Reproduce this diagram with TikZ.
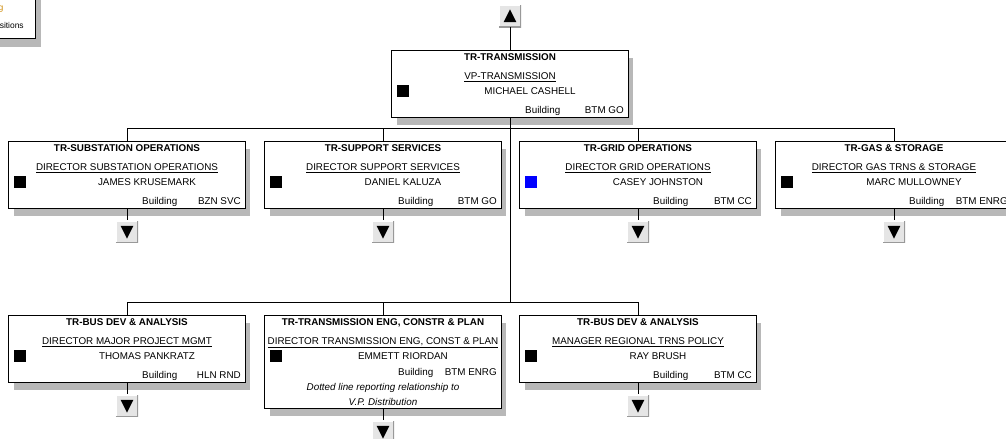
\documentclass[tikz,border=0pt]{standalone}
\usepackage{fontspec}
\setmainfont{Liberation Sans}
\usepackage{tikz}
\usetikzlibrary{positioning, calc, shadows}

\definecolor{legendorange}{RGB}{205,135,0}

\newcommand{\btnframe}{%
	\draw[white, line width=1.4pt] (path picture bounding box.south west) |- (path picture bounding box.north east);
	\draw[black!40, line width=1.4pt] (path picture bounding box.south west) -| (path picture bounding box.north east);
}

\tikzset{
	unitbox/.style={draw=black, fill=white, line width=0.7pt, minimum width=5.9cm, inner sep=0pt,
		drop shadow={shadow xshift=0.13cm, shadow yshift=-0.2cm, fill=black!28, opacity=1}},
	unittitle/.style={inner sep=0pt, anchor=base, font=\fontsize{7}{8}\selectfont\bfseries},
	unittext/.style={inner sep=0pt, anchor=base},
	unitright/.style={inner sep=0pt, anchor=base east},
	flagbox/.style={fill=#1, minimum size=0.3cm, inner sep=0pt},
	btn/.style={fill=black!10, minimum size=0.55cm, inner sep=0pt},
	btndown/.style={btn, path picture={\btnframe
		\fill[black] ([shift={(-0.16cm,0.15cm)}]path picture bounding box.center) -- ([shift={(0.16cm,0.15cm)}]path picture bounding box.center) -- ([shift={(0cm,-0.17cm)}]path picture bounding box.center) -- cycle;}},
	btnup/.style={btn, path picture={\btnframe
		\fill[black] ([shift={(-0.16cm,-0.15cm)}]path picture bounding box.center) -- ([shift={(0.16cm,-0.15cm)}]path picture bounding box.center) -- ([shift={(0cm,0.17cm)}]path picture bounding box.center) -- cycle;}},
	orgline/.style={line width=0.7pt}
}

\def\bldgy{64}
\newcommand{\orgunit}[9]{%
	\node[unitbox, minimum height=#4*0.025cm] (#1) at (#2, #3+#4/2) {};
	\node[unittitle] (#1-t) at ($(#1.north)+(0,11)$) {#5};
	\node[unittext] (#1-p) at ($(#1.north)+(0,29.5)$) {\underline{#6}};
	\node[flagbox=#9] (#1-f) at ($(#1.north west)+(12,41.5)$) {};
	\node[unittext] (#1-n) at ($(#1.north)+(20,44.5)$) {#7};
	\node[unitright] (#1-b) at ($(#1.north east)+(-68,\bldgy)$) {Building};
	\node[unitright] (#1-v) at ($(#1.north east)+(-4.5,\bldgy)$) {#8};
}

\begin{document}
\begin{tikzpicture}[x=0.025cm, y=-0.025cm, font=\fontsize{7}{8}\selectfont]
		\useasboundingbox (0,0) rectangle (1006,439);

		\node[unitbox, minimum width=3cm, minimum height=1.5cm, anchor=south east] (legend) at (36,39) {};
		\node[unitright, text=legendorange, font=\fontsize{6}{7}\selectfont] (legend-a) at (3.5,11) {g};
		\node[unitright, font=\fontsize{6}{7}\selectfont] (legend-b) at (24,29) {sitions};

		\orgunit{trans}{510}{50}{67}{TR-TRANSMISSION}{VP-TRANSMISSION}{MICHAEL CASHELL}{BTM GO}{black}
		\orgunit{subst}{127}{141}{67}{TR-SUBSTATION OPERATIONS}{DIRECTOR SUBSTATION OPERATIONS}{JAMES KRUSEMARK}{BZN SVC}{black}
		\orgunit{supp}{383}{141}{67}{TR-SUPPORT SERVICES}{DIRECTOR SUPPORT SERVICES}{DANIEL KALUZA}{BTM GO}{black}
		\orgunit{grid}{638}{141}{67}{TR-GRID OPERATIONS}{DIRECTOR GRID OPERATIONS}{CASEY JOHNSTON}{BTM CC}{blue}
		\orgunit{gas}{894}{141}{67}{TR-GAS \& STORAGE}{DIRECTOR GAS TRNS \& STORAGE}{MARC MULLOWNEY}{BTM ENRG}{black}
		\orgunit{busdev}{127}{315}{67}{TR-BUS DEV \& ANALYSIS}{DIRECTOR MAJOR PROJECT MGMT}{THOMAS PANKRATZ}{HLN RND}{black}
		\orgunit{policy}{638}{315}{67}{TR-BUS DEV \& ANALYSIS}{MANAGER REGIONAL TRNS POLICY}{RAY BRUSH}{BTM CC}{black}
		\def\bldgy{60.5}
		\orgunit{eng}{383}{315}{93}{TR-TRANSMISSION ENG, CONSTR \& PLAN}{DIRECTOR TRANSMISSION ENG, CONST \& PLAN}{EMMETT RIORDAN}{BTM ENRG}{black}
		\node[unittext, font=\fontsize{7}{8}\selectfont\itshape] (eng-d1) at ($(eng.north)+(0,75.5)$) {Dotted line reporting relationship to};
		\node[unittext, font=\fontsize{7}{8}\selectfont\itshape] (eng-d2) at ($(eng.north)+(0,90.5)$) {V.P. Distribution};

		\node[btnup, above=0.55cm of trans] (trans-up) {};
		\node[btndown, below=0.3cm of subst] (subst-down) {};
		\node[btndown, below=0.3cm of supp] (supp-down) {};
		\node[btndown, below=0.3cm of grid] (grid-down) {};
		\node[btndown, below=0.3cm of gas] (gas-down) {};
		\node[btndown, below=0.3cm of busdev] (busdev-down) {};
		\node[btndown, below=0.3cm of eng] (eng-down) {};
		\node[btndown, below=0.3cm of policy] (policy-down) {};

		\coordinate (bus-a) at (510,128);
		\coordinate (bus-b) at (510,302);
		\draw[orgline] (trans-up) -- (trans);
		\draw[orgline] (trans) -- (bus-b);
		\draw[orgline] (subst) -- (subst |- bus-a) -| (gas);
		\draw[orgline] (supp) -- (supp |- bus-a);
		\draw[orgline] (grid) -- (grid |- bus-a);
		\draw[orgline] (busdev) -- (busdev |- bus-b) -| (policy);
		\draw[orgline] (eng) -- (eng |- bus-b);
		\foreach \u in {subst, supp, grid, gas, busdev, eng, policy}
			\draw[orgline] (\u) -- (\u-down);
\end{tikzpicture}
\end{document}
